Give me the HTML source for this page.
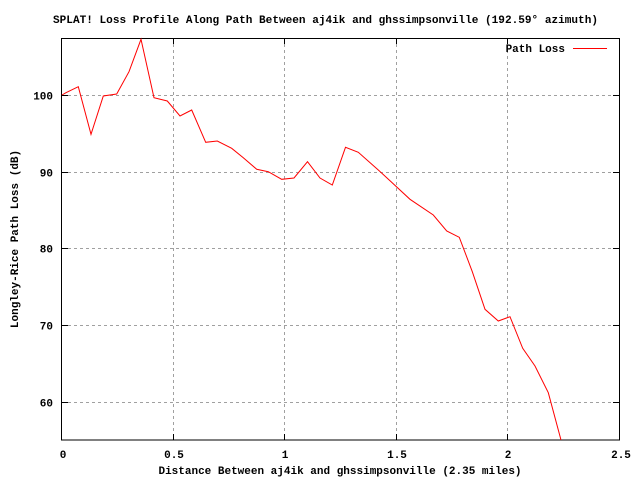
<!DOCTYPE html>
<html><head><meta charset="utf-8"><style>
html,body{margin:0;padding:0;background:#fff;}
svg text{font-family:"Liberation Mono","DejaVu Sans Mono",monospace;font-weight:bold;font-size:11px;fill:#000;}
</style></head><body>
<svg width="640" height="480" viewBox="0 0 640 480" xmlns="http://www.w3.org/2000/svg">
<rect width="640" height="480" fill="#fff"/>
<g stroke="#a0a0a0" stroke-width="1" stroke-dasharray="3,3" fill="none">
<line x1="62" y1="95.5" x2="619" y2="95.5"/>
<line x1="62" y1="172.5" x2="619" y2="172.5"/>
<line x1="62" y1="248.5" x2="619" y2="248.5"/>
<line x1="62" y1="325.5" x2="619" y2="325.5"/>
<line x1="62" y1="402.5" x2="619" y2="402.5"/>
<line x1="173.5" y1="38" x2="173.5" y2="440"/>
<line x1="284.5" y1="38" x2="284.5" y2="440"/>
<line x1="396.5" y1="38" x2="396.5" y2="440"/>
<line x1="507.5" y1="38" x2="507.5" y2="440"/>
</g>
<g stroke="#000" stroke-width="1" fill="none">
<rect x="61.5" y="38.5" width="558" height="401.5"/>
<path d="M62 95.5h6M62 172.5h6M62 248.5h6M62 325.5h6M62 402.5h6M619 95.5h-6M619 172.5h-6M619 248.5h-6M619 325.5h-6M619 402.5h-6M173.5 440v-6M284.5 440v-6M396.5 440v-6M507.5 440v-6M173.5 38v6M284.5 38v6M396.5 38v6M507.5 38v6"/>
</g>
<polyline fill="none" stroke="#ff0000" stroke-width="1" points="62,95 66,92.7 78.3,86.7 91,134.3 103.3,96 116.7,94 129,71.7 141,39.3 154,97.7 167.3,101 180,116 191.7,110 205.7,142.3 217.3,141 231.7,148.3 243.3,157.7 256.7,169.3 268.3,171.7 281.7,179.3 294,178 307.5,161.7 320,178 332.3,185 345.5,147.3 358.3,152.3 378.3,170 390,180.7 410,199.3 433.3,215 446.7,231 459.3,237.3 472.3,271.7 485,309.3 498.3,321 510,316.7 522.7,348.3 535,366 548.3,392.7 561,440"/>
<text x="53" y="23" textLength="545" lengthAdjust="spacingAndGlyphs">SPLAT! Loss Profile Along Path Between aj4ik and ghssimpsonville (192.59° azimuth)</text>
<g text-anchor="end">
<text x="53" y="99.5">100</text>
<text x="53" y="176.5">90</text>
<text x="53" y="252.5">80</text>
<text x="53" y="329.5">70</text>
<text x="53" y="406.5">60</text>
</g>
<g text-anchor="middle">
<text x="63" y="458">0</text>
<text x="174" y="458">0.5</text>
<text x="285" y="458">1</text>
<text x="397" y="458">1.5</text>
<text x="508" y="458">2</text>
<text x="621" y="458">2.5</text>
<text x="340" y="474">Distance Between aj4ik and ghssimpsonville (2.35 miles)</text>
<text transform="translate(18,239) rotate(-90)">Longley-Rice Path Loss (dB)</text>
</g>
<text x="565" y="52" text-anchor="end">Path Loss</text>
<line x1="573" y1="48.5" x2="607" y2="48.5" stroke="#ff0000" stroke-width="1"/>
</svg>
</body></html>
